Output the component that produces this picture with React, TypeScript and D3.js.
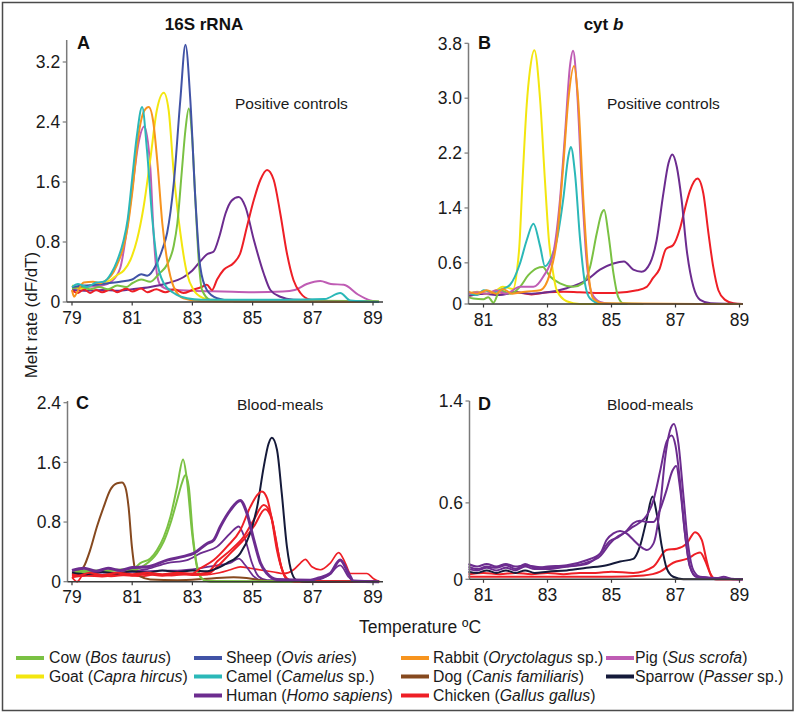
import React from "react";
import * as d3 from "d3";

type Pt = [number, number];

const FONT = "'Liberation Sans', Arial, Helvetica, sans-serif";

// ---------- colours ----------
const C_COW = "#7ac143";
const C_SHEEP = "#4153a6";
const C_RABBIT = "#f7941e";
const C_PIG = "#bf5cb4";
const C_GOAT = "#f3e60f";
const C_CAMEL = "#2bb8b8";
const C_DOG = "#86491f";
const C_SPARROW = "#151a3a";
const C_HUMAN = "#6c2c8f";
const C_CHICKEN = "#ee1f26";

// ---------- ticks ----------
const xTicksAC = [79, 81, 83, 85, 87, 89];
const xTicksBD = [81, 83, 85, 87, 89];
const yTicksA = [0, 0.8, 1.6, 2.4, 3.2];
const yTicksB = [0, 0.6, 1.4, 2.2, 3.0, 3.8];
const yTicksC = [0, 0.8, 1.6, 2.4];
const yTicksD = [0, 0.6, 1.4];

// ---------- Panel A : 16S rRNA positive controls ----------
const A_pig: Pt[] = [[79.0,0.18],[79.5,0.2],[80.0,0.22],[80.3,0.27],[80.6,0.45],[80.8,0.9],[81.0,1.5],[81.2,2.1],[81.4,2.34],[81.6,1.8],[81.71,0.92],[81.82,0.38],[81.93,0.23],[82.2,0.17],[83.0,0.15],[84.0,0.14],[85.0,0.13],[86.0,0.14],[86.4,0.16],[86.8,0.24],[87.25,0.28],[87.6,0.24],[88.03,0.23],[88.5,0.1],[88.91,0.02],[89.2,0.0]];
const A_human: Pt[] = [[79.0,0.16],[79.5,0.15],[80.0,0.16],[80.5,0.15],[81.0,0.17],[81.6,0.2],[82.16,0.25],[82.7,0.33],[83.0,0.42],[83.3,0.56],[83.5,0.64],[83.7,0.67],[83.9,0.88],[84.1,1.18],[84.3,1.35],[84.54,1.4],[84.76,1.27],[85.04,0.83],[85.37,0.38],[85.59,0.16],[85.92,0.07],[86.36,0.03],[89.2,0.0]];
const A_chicken: Pt[] = [[79.0,0.15],[79.2,0.12],[79.4,0.17],[79.6,0.12],[79.8,0.16],[80.0,0.13],[80.3,0.17],[80.5,0.13],[80.8,0.18],[81.0,0.14],[81.3,0.18],[81.5,0.13],[81.8,0.17],[82.1,0.13],[82.4,0.17],[82.7,0.12],[83.0,0.16],[83.3,0.2],[83.48,0.23],[83.65,0.16],[83.82,0.3],[84.04,0.43],[84.37,0.52],[84.59,0.65],[84.81,1.0],[85.04,1.36],[85.26,1.63],[85.48,1.76],[85.7,1.63],[85.92,1.18],[86.14,0.65],[86.36,0.29],[86.59,0.12],[86.92,0.03],[87.5,0.01],[89.0,0.0]];
const A_goat: Pt[] = [[79.0,0.22],[79.3,0.18],[79.6,0.22],[79.94,0.25],[80.27,0.29],[80.5,0.36],[80.72,0.42],[80.94,0.56],[81.16,0.83],[81.38,1.27],[81.6,1.9],[81.82,2.56],[82.05,2.79],[82.21,2.56],[82.38,1.72],[82.6,0.92],[82.82,0.38],[83.04,0.16],[83.37,0.05],[83.8,0.01],[89.0,0.01]];
const A_cow: Pt[] = [[79.0,0.18],[79.3,0.2],[79.6,0.17],[79.9,0.2],[80.2,0.17],[80.5,0.22],[80.8,0.2],[81.0,0.25],[81.3,0.3],[81.6,0.27],[81.9,0.38],[82.16,0.5],[82.38,0.75],[82.5,1.05],[82.65,1.75],[82.77,2.3],[82.88,2.58],[82.99,2.2],[83.1,1.35],[83.21,0.56],[83.32,0.16],[83.6,0.03],[89.2,0.01]];
const A_sheep: Pt[] = [[79.0,0.2],[79.4,0.22],[79.8,0.23],[80.2,0.25],[80.6,0.27],[81.0,0.3],[81.3,0.37],[81.5,0.35],[81.8,0.5],[82.0,0.7],[82.16,0.92],[82.38,1.58],[82.6,2.7],[82.77,3.43],[82.93,2.7],[83.1,1.36],[83.26,0.47],[83.48,0.16],[83.82,0.05],[84.4,0.01],[89.2,0.0]];
const A_rabbit: Pt[] = [[79.0,0.16],[79.07,0.07],[79.17,0.13],[79.39,0.26],[79.7,0.27],[79.94,0.25],[80.05,0.27],[80.3,0.35],[80.5,0.5],[80.7,0.72],[80.85,1.0],[81.0,1.45],[81.2,2.2],[81.4,2.55],[81.55,2.6],[81.7,2.4],[81.85,1.8],[82.0,1.05],[82.16,0.56],[82.38,0.2],[82.7,0.05],[83.3,0.01],[89.0,0.0]];
const A_camel: Pt[] = [[79.0,0.2],[79.2,0.24],[79.5,0.2],[79.8,0.26],[80.05,0.27],[80.3,0.38],[80.5,0.55],[80.7,0.8],[80.85,1.1],[81.0,1.65],[81.15,2.2],[81.33,2.6],[81.49,2.03],[81.66,1.14],[81.82,0.56],[82.05,0.25],[82.38,0.12],[82.82,0.05],[83.3,0.03],[86.0,0.03],[87.4,0.04],[87.91,0.12],[88.25,0.02],[89.2,0.0]];

// ---------- Panel B : cyt b positive controls ----------
const B_goat: Pt[] = [[80.53,0.15],[80.8,0.18],[81.1,0.15],[81.4,0.2],[81.6,0.25],[81.93,0.22],[82.05,0.5],[82.12,0.84],[82.22,1.8],[82.35,2.9],[82.45,3.4],[82.59,3.7],[82.77,2.97],[82.92,1.8],[83.05,0.9],[83.13,0.6],[83.29,0.2],[83.6,0.04],[84.0,0.0],[85.5,0.0]];
const B_camel: Pt[] = [[80.53,0.16],[80.8,0.13],[81.0,0.2],[81.3,0.17],[81.6,0.22],[81.83,0.28],[82.14,0.59],[82.35,0.93],[82.56,1.17],[82.77,0.84],[82.92,0.55],[83.08,0.64],[83.29,0.93],[83.49,1.52],[83.65,2.15],[83.73,2.29],[83.86,1.9],[84.02,0.93],[84.17,0.3],[84.33,0.08],[84.64,0.01],[85.5,0.0]];
const B_cow: Pt[] = [[80.53,0.1],[80.68,0.08],[81.0,0.07],[81.15,0.1],[81.31,0.02],[81.52,0.2],[81.83,0.15],[82.14,0.25],[82.4,0.42],[82.66,0.52],[82.85,0.54],[83.08,0.4],[83.39,0.3],[83.8,0.25],[84.1,0.3],[84.33,0.54],[84.54,1.03],[84.69,1.32],[84.77,1.37],[84.9,1.03],[85.06,0.45],[85.21,0.1],[85.37,0.01],[86.0,0.0]];
const B_pig: Pt[] = [[80.53,0.15],[80.8,0.17],[81.1,0.15],[81.4,0.2],[81.7,0.15],[82.14,0.25],[82.56,0.25],[82.87,0.4],[83.18,0.74],[83.39,1.52],[83.55,2.49],[83.7,3.46],[83.8,3.69],[83.91,3.22],[84.07,1.76],[84.22,0.64],[84.38,0.16],[84.64,0.03],[85.0,0.0]];
const B_rabbit: Pt[] = [[80.53,0.18],[80.8,0.15],[81.1,0.2],[81.4,0.15],[81.6,0.22],[81.9,0.15],[82.3,0.18],[82.77,0.2],[83.08,0.45],[83.29,0.93],[83.49,2.0],[83.65,2.97],[83.83,3.47],[83.96,2.97],[84.12,1.52],[84.28,0.45],[84.43,0.08],[84.74,0.01],[89.1,0.0]];
const B_human: Pt[] = [[80.53,0.12],[81.0,0.15],[81.5,0.13],[82.0,0.17],[82.5,0.15],[83.0,0.17],[83.6,0.23],[84.22,0.35],[84.64,0.5],[85.06,0.59],[85.39,0.62],[85.68,0.5],[85.94,0.47],[86.2,0.59],[86.41,0.93],[86.62,1.61],[86.78,2.05],[86.9,2.18],[87.04,2.0],[87.19,1.52],[87.35,0.79],[87.56,0.25],[87.77,0.06],[88.1,0.01],[89.1,0.0]];
const B_chicken: Pt[] = [[80.53,0.12],[81.0,0.15],[81.5,0.14],[82.0,0.17],[82.5,0.14],[83.0,0.17],[83.5,0.18],[84.0,0.17],[84.6,0.16],[85.06,0.16],[85.8,0.2],[86.1,0.25],[86.3,0.38],[86.5,0.51],[86.7,0.8],[86.93,0.86],[87.14,1.1],[87.3,1.4],[87.45,1.65],[87.69,1.83],[87.87,1.61],[88.03,1.03],[88.18,0.54],[88.34,0.2],[88.55,0.06],[88.81,0.01],[89.1,0.0]];

// ---------- Panel C : 16S rRNA blood-meals ----------
const C_dog1: Pt[] = [[79.0,0.11],[79.2,0.13],[79.39,0.2],[79.6,0.42],[79.83,0.74],[80.05,1.0],[80.27,1.23],[80.5,1.32],[80.66,1.33],[80.77,1.27],[80.88,1.0],[80.99,0.47],[81.1,0.16],[81.27,0.07],[81.6,0.03],[82.5,0.02],[83.5,0.04],[84.37,0.06],[84.8,0.05],[85.3,0.02],[86.0,0.0],[89.2,0.0]];
const C_cow1: Pt[] = [[79.0,0.12],[79.5,0.15],[80.0,0.15],[80.5,0.16],[81.05,0.18],[81.27,0.25],[81.6,0.31],[81.82,0.42],[82.05,0.6],[82.27,0.87],[82.49,1.27],[82.69,1.64],[82.82,1.36],[82.99,0.65],[83.15,0.2],[83.26,0.07],[83.48,0.01],[89.2,0.0]];
const C_cow2: Pt[] = [[79.0,0.1],[79.5,0.13],[80.0,0.14],[80.5,0.15],[81.05,0.16],[81.4,0.22],[81.82,0.38],[82.05,0.54],[82.27,0.78],[82.49,1.09],[82.65,1.32],[82.77,1.43],[82.88,1.27],[83.02,0.6],[83.18,0.16],[83.32,0.04],[83.6,0.0],[89.2,0.0]];
const C_sparrow1: Pt[] = [[79.0,0.12],[79.5,0.1],[80.0,0.13],[80.5,0.11],[81.0,0.14],[81.5,0.12],[82.0,0.15],[82.5,0.13],[83.0,0.15],[83.5,0.14],[83.82,0.18],[84.15,0.25],[84.59,0.38],[84.92,0.65],[85.15,1.0],[85.37,1.54],[85.53,1.85],[85.64,1.93],[85.81,1.77],[85.97,1.18],[86.14,0.47],[86.31,0.11],[86.47,0.02],[86.8,0.0],[89.2,0.0]];
const C_human1: Pt[] = [[79.0,0.15],[79.4,0.18],[79.8,0.14],[80.2,0.18],[80.6,0.15],[81.0,0.19],[81.5,0.2],[82.16,0.29],[82.71,0.34],[83.04,0.38],[83.48,0.51],[83.71,0.56],[83.93,0.74],[84.26,0.96],[84.59,1.09],[84.81,0.92],[85.04,0.56],[85.26,0.25],[85.48,0.11],[85.81,0.03],[86.92,0.02],[87.2,0.05],[87.58,0.11],[87.91,0.29],[88.19,0.11],[88.35,0.01],[89.2,0.0]];
const C_human2: Pt[] = [[79.0,0.13],[79.5,0.15],[80.0,0.13],[80.5,0.16],[81.0,0.14],[81.5,0.17],[82.16,0.25],[82.82,0.29],[83.26,0.38],[83.82,0.47],[84.26,0.65],[84.54,0.74],[84.76,0.56],[84.98,0.25],[85.2,0.07],[85.48,0.02],[87.0,0.02],[87.5,0.08],[87.91,0.22],[88.2,0.06],[88.4,0.0],[89.2,0.0]];
const C_human3: Pt[] = [[79.0,0.12],[80.0,0.12],[81.0,0.13],[82.0,0.15],[82.5,0.15],[83.26,0.18],[83.82,0.22],[84.26,0.25],[84.54,0.31],[84.76,0.22],[85.04,0.07],[85.37,0.01],[89.2,0.0]];
const C_chicken1: Pt[] = [[79.0,0.1],[79.2,0.08],[79.6,0.12],[80.0,0.09],[80.5,0.12],[81.0,0.1],[81.5,0.12],[82.0,0.1],[82.5,0.12],[83.0,0.11],[83.26,0.18],[83.71,0.29],[84.15,0.47],[84.59,0.69],[84.92,1.0],[85.15,1.16],[85.31,1.21],[85.48,1.12],[85.64,0.83],[85.81,0.42],[85.98,0.16],[86.14,0.04],[86.36,0.01],[89.2,0.0]];
const C_chicken2: Pt[] = [[79.0,0.08],[79.5,0.1],[80.0,0.08],[80.5,0.1],[81.0,0.09],[81.5,0.11],[82.0,0.09],[82.5,0.11],[83.0,0.1],[83.5,0.12],[83.82,0.27],[84.26,0.42],[84.7,0.6],[85.04,0.83],[85.37,1.03],[85.59,0.92],[85.76,0.6],[85.92,0.25],[86.09,0.07],[86.31,0.01],[89.2,0.0]];
const C_chicken3: Pt[] = [[79.0,0.06],[79.5,0.08],[80.0,0.07],[80.5,0.09],[81.0,0.08],[81.5,0.1],[82.0,0.08],[82.5,0.1],[83.0,0.09],[83.5,0.1],[83.82,0.2],[84.26,0.38],[84.7,0.56],[85.04,0.74],[85.42,0.97],[85.64,0.83],[85.81,0.47],[85.98,0.16],[86.14,0.03],[86.4,0.0],[89.2,0.0]];
const C_chicken4: Pt[] = [[79.0,0.06],[79.17,0.0],[79.35,0.08],[79.8,0.1],[80.3,0.07],[80.8,0.09],[81.3,0.07],[81.8,0.1],[82.3,0.08],[82.8,0.1],[83.3,0.09],[83.9,0.12],[84.26,0.16],[84.59,0.2],[84.92,0.18],[85.37,0.15],[85.7,0.13],[86.03,0.11],[86.36,0.16],[86.59,0.25],[86.75,0.3],[86.97,0.2],[87.25,0.16],[87.58,0.25],[87.86,0.39],[88.08,0.25],[88.25,0.11],[88.5,0.11],[88.8,0.11],[89.02,0.04],[89.24,0.0]];

// ---------- Panel D : cyt b blood-meals ----------
const D_human1: Pt[] = [[80.53,0.1],[80.8,0.08],[81.1,0.1],[81.4,0.09],[81.7,0.11],[82.0,0.08],[82.3,0.12],[82.6,0.09],[83.0,0.1],[83.6,0.11],[84.22,0.15],[84.64,0.2],[84.85,0.31],[85.06,0.36],[85.27,0.38],[85.47,0.36],[85.68,0.31],[85.89,0.26],[86.1,0.23],[86.31,0.28],[86.52,0.57],[86.67,0.94],[86.83,1.17],[86.95,1.22],[87.09,1.07],[87.25,0.65],[87.4,0.26],[87.56,0.07],[87.77,0.02],[88.3,0.01],[88.5,0.02],[88.8,0.0],[89.1,0.0]];
const D_human2: Pt[] = [[80.53,0.12],[80.8,0.1],[81.1,0.12],[81.4,0.1],[81.7,0.12],[82.0,0.1],[82.3,0.11],[82.6,0.1],[83.0,0.09],[83.6,0.1],[84.22,0.13],[84.64,0.18],[84.95,0.28],[85.16,0.33],[85.37,0.36],[85.6,0.4],[85.85,0.44],[86.1,0.5],[86.31,0.62],[86.52,0.85],[86.72,1.08],[86.88,1.13],[87.0,1.05],[87.15,0.75],[87.3,0.35],[87.45,0.1],[87.65,0.02],[89.1,0.0]];
const D_human3: Pt[] = [[80.53,0.08],[80.8,0.07],[81.1,0.09],[81.4,0.07],[81.7,0.09],[82.0,0.07],[82.3,0.1],[82.6,0.08],[83.0,0.08],[83.6,0.1],[84.22,0.12],[84.64,0.2],[84.95,0.3],[85.2,0.33],[85.47,0.38],[85.68,0.44],[85.89,0.46],[86.1,0.45],[86.31,0.45],[86.52,0.55],[86.72,0.7],[86.9,0.85],[87.02,0.89],[87.15,0.7],[87.3,0.35],[87.45,0.1],[87.65,0.02],[89.1,0.0]];
const D_sparrow1: Pt[] = [[80.53,0.06],[80.8,0.05],[81.1,0.07],[81.4,0.05],[81.7,0.07],[82.0,0.05],[82.3,0.07],[82.6,0.05],[83.0,0.06],[83.6,0.07],[84.22,0.09],[84.85,0.11],[85.27,0.14],[85.68,0.16],[85.89,0.26],[86.1,0.47],[86.28,0.65],[86.41,0.52],[86.57,0.26],[86.72,0.09],[86.93,0.02],[87.25,0.0],[89.1,0.0]];
const D_chicken1: Pt[] = [[80.53,0.04],[81.0,0.05],[81.5,0.04],[82.0,0.05],[82.5,0.04],[83.0,0.05],[83.5,0.04],[84.0,0.05],[84.5,0.05],[85.0,0.06],[85.68,0.05],[86.31,0.1],[86.72,0.23],[87.04,0.24],[87.35,0.28],[87.61,0.37],[87.82,0.31],[87.97,0.15],[88.13,0.02],[88.29,0.0],[89.1,0.0]];
const D_chicken2: Pt[] = [[80.53,0.02],[81.0,0.02],[82.0,0.02],[83.0,0.02],[84.0,0.02],[85.0,0.02],[86.0,0.03],[86.52,0.06],[86.93,0.13],[87.35,0.16],[87.77,0.21],[87.92,0.15],[88.08,0.05],[88.23,0.0],[89.1,0.0]];

// ---------- legend ----------
const legendNames = ["Cow", "Sheep", "Rabbit", "Pig", "Goat", "Camel", "Dog", "Sparrow", "Human", "Chicken"];
const legendLatin = ["Bos taurus", "Ovis aries", "Oryctolagus", "Sus scrofa", "Capra hircus", "Camelus", "Canis familiaris", "Passer", "Homo sapiens", "Gallus gallus"];
const legendSp = [false, false, true, false, false, true, false, true, false, false];
const legendColors = [C_COW, C_SHEEP, C_RABBIT, C_PIG, C_GOAT, C_CAMEL, C_DOG, C_SPARROW, C_HUMAN, C_CHICKEN];
const legendCol = [0, 1, 2, 3, 0, 1, 2, 3, 1, 2];
const legendRow = [0, 0, 0, 0, 1, 1, 1, 1, 2, 2];

interface Series { data: Pt[]; color: string; width?: number }
interface PanelCfg {
  letter: string;
  note: string;
  noteX: number;
  noteY: number;
  letterX: number;
  baselineY: number;
  xTicks: number[];
  yTicks: number[];
  xRef: [number, number];
  xPx: [number, number];
  axisLeft: number;
  axisRight: number;
  yPx: [number, number];
  yRefMax: number;
  axisTop: number;
  series: Series[];
  yFmt: (v: number) => string;
}

const fmtA = (v: number) => (v === 0 ? "0" : d3.format(".1f")(v));

const panels: PanelCfg[] = [
  {
    letter: "A", note: "Positive controls", noteX: 235, noteY: 109, letterX: 77, baselineY: 49,
    xTicks: xTicksAC, yTicks: yTicksA, xRef: [79, 89], xPx: [72, 373], axisLeft: 66.7, axisRight: 383,
    yPx: [302, 62], yRefMax: 3.2, axisTop: 40, yFmt: fmtA,
    series: [
      { data: A_pig, color: C_PIG }, { data: A_human, color: C_HUMAN }, { data: A_chicken, color: C_CHICKEN },
      { data: A_goat, color: C_GOAT }, { data: A_cow, color: C_COW }, { data: A_sheep, color: C_SHEEP },
      { data: A_rabbit, color: C_RABBIT }, { data: A_camel, color: C_CAMEL },
    ],
  },
  {
    letter: "B", note: "Positive controls", noteX: 607, noteY: 108.5, letterX: 478, baselineY: 49,
    xTicks: xTicksBD, yTicks: yTicksB, xRef: [81, 89], xPx: [483.5, 739.5], axisLeft: 468.5, axisRight: 743,
    yPx: [304, 43.3], yRefMax: 3.8, axisTop: 43.3, yFmt: fmtA,
    series: [
      { data: B_chicken, color: C_CHICKEN }, { data: B_human, color: C_HUMAN }, { data: B_cow, color: C_COW },
      { data: B_goat, color: C_GOAT }, { data: B_camel, color: C_CAMEL }, { data: B_pig, color: C_PIG },
      { data: B_rabbit, color: C_RABBIT },
    ],
  },
  {
    letter: "C", note: "Blood-meals", noteX: 237, noteY: 409.5, letterX: 76, baselineY: 409,
    xTicks: xTicksAC, yTicks: yTicksC, xRef: [79, 89], xPx: [72, 373], axisLeft: 67.5, axisRight: 383,
    yPx: [581.7, 402.7], yRefMax: 2.4, axisTop: 401, yFmt: fmtA,
    series: [
      { data: C_chicken4, color: C_CHICKEN, width: 1.7 }, { data: C_human3, color: C_HUMAN, width: 1.7 },
      { data: C_human2, color: C_HUMAN, width: 1.8 }, { data: C_dog1, color: C_DOG },
      { data: C_cow2, color: C_COW }, { data: C_cow1, color: C_COW },
      { data: C_chicken3, color: C_CHICKEN }, { data: C_chicken2, color: C_CHICKEN },
      { data: C_sparrow1, color: C_SPARROW }, { data: C_chicken1, color: C_CHICKEN },
      { data: C_human1, color: C_HUMAN, width: 3 },
    ],
  },
  {
    letter: "D", note: "Blood-meals", noteX: 607, noteY: 409.5, letterX: 478, baselineY: 410,
    xTicks: xTicksBD, yTicks: yTicksD, xRef: [81, 89], xPx: [483.5, 739.5], axisLeft: 469.5, axisRight: 743,
    yPx: [579.3, 401], yRefMax: 1.4, axisTop: 401, yFmt: fmtA,
    series: [
      { data: D_chicken2, color: C_CHICKEN }, { data: D_chicken1, color: C_CHICKEN },
      { data: D_sparrow1, color: C_SPARROW }, { data: D_human3, color: C_HUMAN },
      { data: D_human2, color: C_HUMAN }, { data: D_human1, color: C_HUMAN },
    ],
  },
];

function Panel({ p }: { p: PanelCfg }) {
  const x = d3.scaleLinear().domain(p.xRef).range(p.xPx);
  const y = d3.scaleLinear().domain([0, p.yRefMax]).range(p.yPx);
  const line = d3
    .line<Pt>()
    .x((d) => x(d[0]))
    .y((d) => y(d[1]))
    .curve(d3.curveMonotoneX);
  const y0 = y(0);
  return (
    <g>
      {p.series.map((s, i) => (
        <path key={i} d={line(s.data) || ""} fill="none" stroke={s.color} strokeWidth={s.width ?? 2} strokeLinejoin="round" />
      ))}
      {/* y axis */}
      <line x1={p.axisLeft} x2={p.axisLeft} y1={p.axisTop} y2={y0} stroke="#7a7a7a" strokeWidth={1.5} />
      {p.yTicks.map((t) => (
        <g key={t}>
          <line x1={p.axisLeft - 4} x2={p.axisLeft} y1={y(t)} y2={y(t)} stroke="#7a7a7a" strokeWidth={1.2} />
          <text x={p.axisLeft - 6.5} y={y(t)} dy="0.36em" textAnchor="end" fontSize={17.5} fill="#1a1a1a">
            {p.yFmt(t)}
          </text>
        </g>
      ))}
      {/* x axis */}
      <line x1={p.axisLeft} x2={p.axisRight} y1={y0} y2={y0} stroke="#3a3a3a" strokeWidth={1.5} />
      {p.xTicks.map((t) => (
        <g key={t}>
          <line x1={x(t)} x2={x(t)} y1={y0} y2={y0 + 3.5} stroke="#3a3a3a" strokeWidth={1.2} />
          <text x={x(t)} y={y0 + 21.5} textAnchor="middle" fontSize={17.5} fill="#1a1a1a">
            {t}
          </text>
        </g>
      ))}
      <text x={p.letterX} y={p.baselineY} fontSize={18} fontWeight="bold" fill="#111">
        {p.letter}
      </text>
      <text x={p.noteX} y={p.noteY} fontSize={15.5} fill="#1a1a1a">
        {p.note}
      </text>
    </g>
  );
}

export default function App() {
  const colX = [16, 194, 401, 606];
  const textX = [49, 226, 433, 635];
  const rowY = [663, 681.5, 700.5];
  return (
    <svg
      width={800}
      height={713}
      viewBox="0 0 800 713"
      style={{ position: "absolute", left: 0, top: 0, background: "#fff" }}
      fontFamily={FONT}
    >
      <rect x={0} y={0} width={800} height={713} fill="#fff" />
      <rect x={2.5} y={2.5} width={790.5} height={708} fill="none" stroke="#4a4a4a" strokeWidth={1.5} />
      <text x={204} y={30} textAnchor="middle" fontSize={17} fontWeight="bold" fill="#111">
        16S rRNA
      </text>
      <text x={603.5} y={30} textAnchor="middle" fontSize={17} fontWeight="bold" fill="#111">
        cyt <tspan fontStyle="italic">b</tspan>
      </text>
      {panels.map((p) => (
        <Panel key={p.letter} p={p} />
      ))}
      <text
        transform="translate(37,315) rotate(-90)"
        textAnchor="middle"
        fontSize={17}
        fill="#1a1a1a"
      >
        Melt rate (dF/dT)
      </text>
      <text x={420} y={633} textAnchor="middle" fontSize={17.5} fill="#1a1a1a">
        Temperature ºC
      </text>
      {legendNames.map((n, i) => {
        const c = legendCol[i];
        const r = legendRow[i];
        return (
          <g key={n}>
            <line x1={colX[c]} x2={colX[c] + 28} y1={rowY[r] - 5} y2={rowY[r] - 5} stroke={legendColors[i]} strokeWidth={4} />
            <text x={textX[c]} y={rowY[r]} fontSize={15.8} fill="#1a1a1a">
              {n} (<tspan fontStyle="italic">{legendLatin[i]}</tspan>
              {legendSp[i] ? " sp." : ""})
            </text>
          </g>
        );
      })}
    </svg>
  );
}
